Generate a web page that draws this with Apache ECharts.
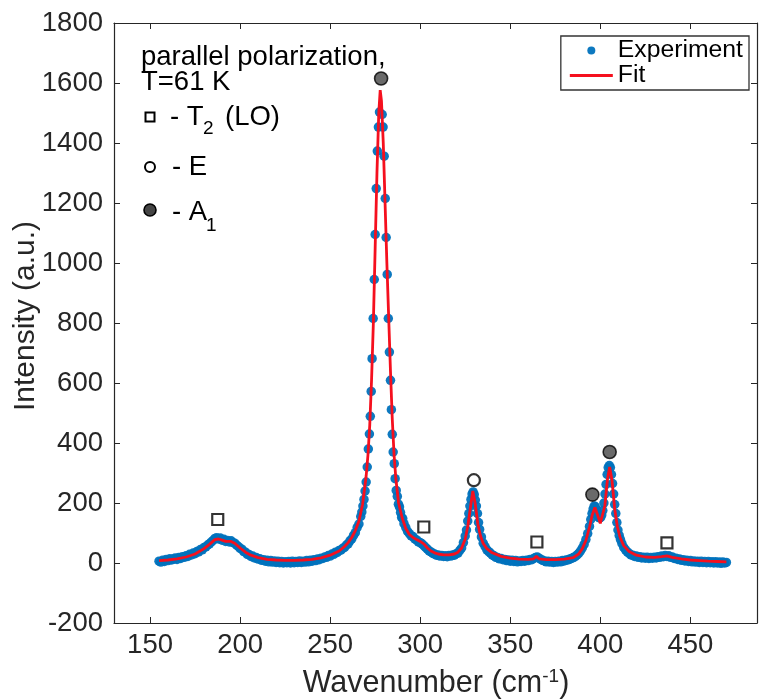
<!DOCTYPE html>
<html><head><meta charset="utf-8">
<script src="https://cdn.jsdelivr.net/npm/echarts@6/dist/echarts.min.js"></script>
<style>html,body{margin:0;padding:0;background:#fff}#c{width:761px;height:700px}</style>
</head><body><div id="c"></div>
<script>
// ---- data ----
const experiment = [
[155,6],[156,3],[157,9],[158,5],[159,12],[160,8],[161,14],[162,10],[163,13],[164,17],[165,12],[166,18],[167,15],[168,21],[169,19],[170,24],
[171,22],[172,29],[173,27],[174,33],[175,31],[176,38],[177,37],[178,45],[179,44],[180,52],[181,54],[182,60],[183,64],[184,70],[185,75],
[186,82],[187,84],[188,80],[189,83],[190,76],[191,79],[192,72],[193,75],[194,70],[195,74],[196,68],[197,66],[198,60],[199,55],[200,49],
[201,46],[202,38],[203,36],[204,29],[205,28],[206,22],[207,23],[208,17],[209,18],[210,13],[211,14],[212,9],[213,11],[214,6],[215,9],
[216,4],[217,8],[218,3],[219,7],[220,2],[221,6],[222,1],[223,5],[224,0],[225,4],[226,1],[227,5],[228,0],[229,6],[230,1],[231,5],[232,2],
[233,7],[234,2],[235,6],[236,3],[237,8],[238,4],[239,9],[240,6],[241,11],[242,8],[243,13],[244,11],[245,16],[246,15],[247,20],[248,19],
[249,25],[250,23],[251,30],[252,29],[253,36],[254,35],[255,42],[256,43],[257,49],[258,52],[259,60],[260,64],[261,74],[262,80],[263,92],
[264,101],[265,118],[266,130],[267,155],[267.6,170],[268.2,190],[268.8,212],[269.4,240],[270.0,270],[270.6,320],[271.2,380],[271.8,430],
[272.3,489],[272.8,572],[273.3,681],[273.9,815],[274.5,945],[275.0,1095],[275.6,1248],[276.2,1373],[276.8,1453],[277.4,1503],[278.9,1495],
[279.4,1453],[280.0,1356],[280.6,1215],[281.1,1085],[281.7,962],[282.3,815],[282.9,703],[283.5,609],[284.0,511],[284.5,429],[285.0,370],
[285.6,331],[286.1,281],[286.7,242],[287.3,222],[287.9,196],[288.5,187],[289.1,168],[289.7,152],[290.3,148],[291,131],[292,118],[293,105],
[294,98],[295,90],[296,88],[297,80],[298,77],[299,70],[300,68],[301,64],[302,58],[303,52],[304,46],[305,40],[306,37],[307,32],[308,30],
[309,26],[310,27],[311,23],[312,25],[313,22],[314,24],[315,21],[316,25],[317,23],[318,27],[319,26],[320,31],[321,33],[322,42],[323,50],
[324,68],[325,90],[325.7,110],[326.4,140],[327,165],[327.6,190],[328.2,212],[328.8,230],[329.4,237],[330,228],[330.6,210],[331.2,190],
[331.8,165],[332.4,135],[333,112],[334,87],[335,66],[336,55],[337,44],[338,38],[339,33],[340,27],[341,24],[342,19],[343,18],[344,14],
[345,15],[346,11],[347,12],[348,8],[349,10],[350,6],[351,9],[352,5],[353,8],[354,4],[355,7],[356,5],[357,8],[358,6],[359,9],[360,8],
[361,12],[362,11],[363,15],[364,18],[365,20],[366,16],[367,12],[368,9],[369,7],[370,4],[371,6],[372,3],[373,5],[374,2],[375,5],[376,3],
[377,6],[378,4],[379,8],[380,7],[381,10],[382,10],[383,13],[384,15],[385,18],[386,21],[387,26],[388,32],[389,40],[390,50],[391,62],
[392,78],[393,98],[394,122],[394.7,145],[395.4,165],[396,180],[396.6,190],[397.2,188],[397.8,178],[398.4,165],[399,153],[399.6,150],
[400.2,152],[400.8,160],[401.4,175],[402,200],[402.6,230],[403.2,262],[403.8,295],[404.4,318],[405,325],[405.6,318],[406.2,295],
[406.8,265],[407.4,230],[408,195],[408.6,165],[409.2,135],[409.8,110],[410.5,92],[411.2,78],[412,65],[413,52],[414,44],[415,37],
[416,32],[417,27],[418,26],[419,22],[420,23],[421,19],[422,21],[423,17],[424,19],[425,16],[426,19],[427,15],[428,18],[429,16],[430,19],
[431,17],[432,21],[433,19],[434,23],[435,21],[436,25],[437,22],[438,24],[439,19],[440,20],[441,15],[442,16],[443,12],[444,13],[445,9],
[446,11],[447,7],[448,9],[449,5],[450,8],[451,4],[452,7],[453,3],[454,6],[455,2],[456,6],[457,2],[458,5],[459,1],[460,5],[461,1],
[462,4],[463,0],[464,4],[465,0],[466,3],[467,-1],[468,3],[469,0],[470,2]
];
const fitX = [155,160,165,170,175,180,183,186,188,190,192,195,197,200,203,206,210,215,220,225,230,235,240,245,250,255,258,260,262,264,266,268,270,
  271,272,273,274,275,276,277,277.8,278.5,279.5,280.5,281.5,282.5,283.5,284.5,285.5,286.5,288,290,292,294,296,298,300,301,302,304,306,308,310,
  313,316,319,321,323,325,326.5,328,329.2,330.5,332,333.5,335,337,340,345,350,355,360,363,364.5,366,370,375,380,385,388,390,392,394,395.5,397,
  398.5,400,401,402.5,404,405.2,406.5,408,409.5,411,413,416,420,425,430,434,437,440,445,450,455,460,465,470];
const fitY = [8,10,14,20,30,48,62,78,80,76,72,72,66,50,36,26,18,12,10,9,9,10,12,17,26,40,55,68,85,108,140,195,290,
  360,460,610,800,1050,1300,1500,1576,1540,1400,1200,1000,820,640,480,360,280,200,150,115,95,85,78,72,72,64,50,40,34,30,
  27,27,30,36,50,80,125,190,240,200,130,90,65,48,34,22,16,13,12,14,22,14,11,11,13,18,30,48,75,120,160,185,
  160,132,135,190,280,320,275,180,120,85,58,38,26,20,19,21,24,19,14,10,8,6,5,4];
const t2X = [187.6, 302, 364.8, 437], t2Y = [145, 120, 70, 67];
const eX = [329.8], eY = [276];
const a1X = [278.3, 395.6, 405.2], a1Y = [1615, 228, 370];
const xTicks = [150, 200, 250, 300, 350, 400, 450];
const yTicks = [-200, 0, 200, 400, 600, 800, 1000, 1200, 1400, 1600, 1800];

// ---- chart ----
const F = '"Liberation Sans", Arial, Helvetica, sans-serif';
const AX = '#262626';
const RED = '#f5101e';
const zip = (xs, ys) => xs.map((x, i) => [x, ys[i]]);
const chart = echarts.init(document.getElementById('c'), null, {renderer: 'canvas'});
const xBase = {type: 'value', min: 130, max: 487, splitLine: {show: false},
  axisLine: {show: true, onZero: false, lineStyle: {color: AX, width: 1.2}},
  axisTick: {show: true, inside: true, length: 6, lineStyle: {color: AX}, customValues: xTicks}};
const yBase = {type: 'value', min: -200, max: 1800, interval: 200, splitLine: {show: false},
  axisLine: {show: true, onZero: false, lineStyle: {color: AX, width: 1.2}},
  axisTick: {show: true, inside: true, length: 6, lineStyle: {color: AX}, customValues: yTicks}};
chart.setOption({
  animation: false,
  backgroundColor: '#fff',
  grid: {left: 114, right: 4, top: 23, bottom: 77, containLabel: false},
  xAxis: [
    Object.assign({}, xBase, {position: 'bottom',
      axisLabel: {show: true, customValues: xTicks, fontSize: 27.5, fontFamily: F, color: AX, margin: 8,
        formatter: v => String(v)}}),
    Object.assign({}, xBase, {position: 'top', axisLabel: {show: false}})
  ],
  yAxis: [
    Object.assign({}, yBase, {position: 'left',
      axisLabel: {show: true, customValues: yTicks, fontSize: 27.5, fontFamily: F, color: AX, margin: 11,
        formatter: v => String(v)}}),
    Object.assign({}, yBase, {position: 'right', axisLabel: {show: false}})
  ],
  legend: {
    data: [{name: 'Experiment', icon: 'circle'},
           {name: 'Fit', icon: 'path://M0,0H43V3H0Z', itemStyle: {color: RED}}],
    orient: 'vertical', right: 12, top: 36, itemWidth: 43, itemHeight: 8, itemGap: 0,
    padding: [2, 6, 2, 9], borderColor: '#333', borderWidth: 1.3, backgroundColor: '#fff',
    textStyle: {fontSize: 24.75, fontFamily: F, color: '#000'}
  },
  series: [
    {name: 'Experiment', type: 'scatter', data: experiment, symbol: 'circle', symbolSize: 9.5,
      itemStyle: {color: '#0072bd', opacity: 0.95}, z: 2},
    {name: 'Fit', type: 'line', data: zip(fitX, fitY), symbol: 'none', smooth: false,
      lineStyle: {color: RED, width: 2.8}, itemStyle: {color: RED}, z: 3},
    {name: 'T2', type: 'scatter', data: zip(t2X, t2Y), symbol: 'rect', symbolSize: 11,
      itemStyle: {color: '#fff', borderColor: '#000', borderWidth: 2.2}, z: 4},
    {name: 'E', type: 'scatter', data: zip(eX, eY), symbol: 'circle', symbolSize: 12,
      itemStyle: {color: '#fff', borderColor: '#000', borderWidth: 2.2}, z: 4},
    {name: 'A1', type: 'scatter', data: zip(a1X, a1Y), symbol: 'circle', symbolSize: 13,
      itemStyle: {color: '#454545', borderColor: '#000', borderWidth: 1.6}, z: 4}
  ],
  graphic: [
    {type: 'text', x: 141, y: 57, style: {text: 'parallel polarization,', font: '27.5px ' + F, fill: '#000', align: 'left', verticalAlign: 'middle'}},
    {type: 'text', x: 141, y: 82, style: {text: 'T=61 K', font: '27.5px ' + F, fill: '#000', align: 'left', verticalAlign: 'middle'}},
    {type: 'rect', shape: {x: 145.5, y: 112.5, width: 9, height: 9}, style: {fill: '#fff', stroke: '#000', lineWidth: 2}},
    {type: 'text', x: 170, y: 117, style: {text: '- T', font: '27.5px ' + F, fill: '#000', align: 'left', verticalAlign: 'middle'}},
    {type: 'text', x: 203, y: 129, style: {text: '2', font: '19px ' + F, fill: '#000', align: 'left', verticalAlign: 'middle'}},
    {type: 'text', x: 225, y: 117, style: {text: '(LO)', font: '27.5px ' + F, fill: '#000', align: 'left', verticalAlign: 'middle'}},
    {type: 'circle', shape: {cx: 150, cy: 167, r: 5}, style: {fill: '#fff', stroke: '#000', lineWidth: 2}},
    {type: 'text', x: 172, y: 167, style: {text: '- E', font: '27.5px ' + F, fill: '#000', align: 'left', verticalAlign: 'middle'}},
    {type: 'circle', shape: {cx: 150, cy: 210, r: 6}, style: {fill: '#454545', stroke: '#000', lineWidth: 1.6}},
    {type: 'text', x: 172, y: 212, style: {text: '- A', font: '27.5px ' + F, fill: '#000', align: 'left', verticalAlign: 'middle'}},
    {type: 'text', x: 206, y: 226, style: {text: '1', font: '19px ' + F, fill: '#000', align: 'left', verticalAlign: 'middle'}},
    {type: 'text', x: 26, y: 316, rotation: Math.PI / 2,
      style: {text: 'Intensity (a.u.)', font: '30px ' + F, fill: AX, align: 'center', verticalAlign: 'middle'}},
    {type: 'text', x: 436, y: 684,
      style: {text: 'Wavenumber (cm{sup|-1})', font: '30.5px ' + F, fill: AX, align: 'center', verticalAlign: 'middle',
        rich: {sup: {fontSize: 19, fontFamily: F, fill: AX, verticalAlign: 'top', lineHeight: 34, padding: [0, 0, 14, 0]}}}}
  ]
});
</script></body></html>
